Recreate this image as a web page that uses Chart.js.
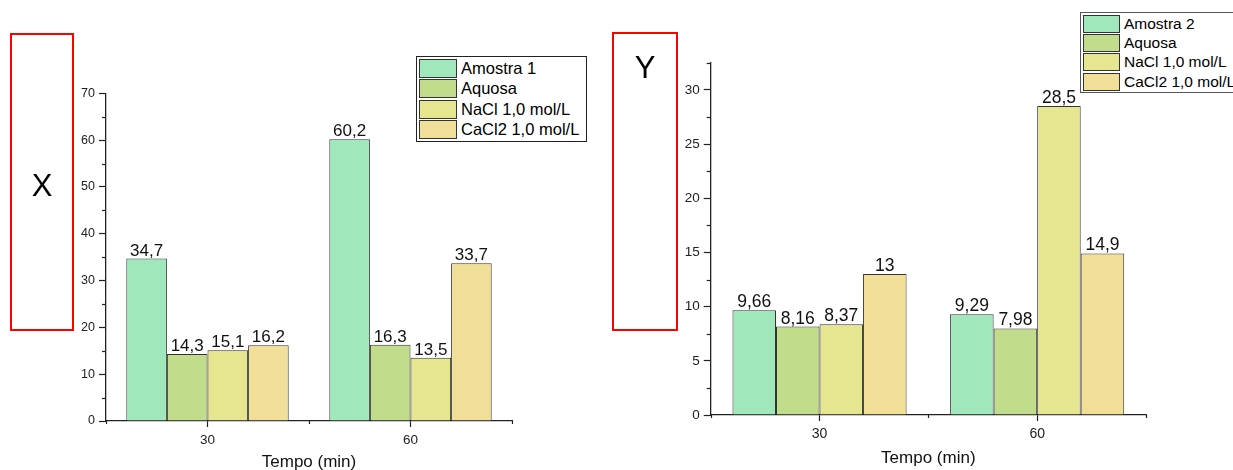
<!DOCTYPE html>
<html><head><meta charset="utf-8">
<script src="https://cdn.jsdelivr.net/npm/chart.js@4/dist/chart.umd.min.js"></script>
<style>
html,body{margin:0;padding:0;width:1233px;height:470px;overflow:hidden;background:#fff;font-family:"Liberation Sans",Arial,sans-serif;}
canvas{position:absolute;top:0;}
#c1{left:0;}
#c2{left:600px;}
.redbox{position:absolute;border:2px solid #f00;box-sizing:border-box;}
.redbox span{position:absolute;left:0;width:100%;text-align:center;font-size:31px;color:#000;line-height:1;}
.legend{position:absolute;background:#fff;box-sizing:border-box;border:1px solid #222;white-space:nowrap;}
.legend .row{position:absolute;left:2px;}
.legend .sw{position:absolute;left:0;top:0;box-sizing:border-box;border:1px solid #333;}
.legend .tx{position:absolute;top:0;color:#000;}
</style>
</head><body>
<canvas id="c1" width="600" height="480"></canvas>
<canvas id="c2" width="633" height="480"></canvas>
<div class="redbox" style="left:10px;top:33px;width:64px;height:298px;"><span style="top:135px;">X</span></div>
<div class="redbox" style="left:612px;top:32px;width:66px;height:299px;"><span style="top:18px;">Y</span></div>
<div id="leg1" class="legend" style="left:416px;top:56px;width:171px;height:86px;"></div>
<div id="leg2" class="legend" style="left:1080px;top:12px;width:170px;height:81px;border-color:#555;"></div>
<script>
// ---------- data ----------
const categories = ['30', '60'];
const seriesNames1 = ['Amostra 1', 'Aquosa', 'NaCl 1,0 mol/L', 'CaCl2 1,0 mol/L'];
const seriesNames2 = ['Amostra 2', 'Aquosa', 'NaCl 1,0 mol/L', 'CaCl2 1,0 mol/L'];
const amostra1 = [34.7, 60.2];
const aquosa1 = [14.3, 16.3];
const nacl1 = [15.1, 13.5];
const cacl2_1 = [16.2, 33.7];
const amostra2 = [9.66, 9.29];
const aquosa2 = [8.16, 7.98];
const nacl2 = [8.37, 28.5];
const cacl2_2 = [13, 14.9];
const xTitle = 'Tempo (min)';
const seriesColors = ['#a0e8bb', '#c1dc8b', '#e6e690', '#f2df97'];

const FONT = '"Liberation Sans", Arial, sans-serif';

function fmt(v) { return String(v).replace('.', ','); }

function buildLegend(id, names, cfg) {
  const el = document.getElementById(id);
  names.forEach((n, i) => {
    const r = document.createElement('div');
    r.className = 'row';
    r.style.top = (cfg.top + i * cfg.rowH) + 'px';
    const sw = document.createElement('div');
    sw.className = 'sw';
    sw.style.width = cfg.swW + 'px';
    sw.style.height = cfg.swH + 'px';
    sw.style.background = seriesColors[i];
    const tx = document.createElement('div');
    tx.className = 'tx';
    tx.style.left = cfg.txL + 'px';
    tx.style.fontSize = cfg.fs + 'px';
    tx.style.lineHeight = cfg.swH + 'px';
    tx.textContent = n;
    r.appendChild(sw); r.appendChild(tx);
    el.appendChild(r);
  });
}

const decorPlugin = {
  id: 'decor',
  afterDatasetsDraw(chart, args, opts) {
    const ctx = chart.ctx;
    const ys = chart.scales.y;
    const area = chart.chartArea;
    ctx.save();
    // value labels
    ctx.fillStyle = '#111';
    ctx.font = opts.labelSize + 'px ' + FONT;
    ctx.textAlign = 'center';
    ctx.textBaseline = 'alphabetic';
    chart.data.datasets.forEach((ds, di) => {
      const meta = chart.getDatasetMeta(di);
      meta.data.forEach((bar, i) => {
        ctx.fillText(fmt(ds.data[i]), bar.x, bar.y - 3);
      });
    });
    // minor y ticks
    ctx.strokeStyle = '#222';
    ctx.lineWidth = 1.2;
    for (let v = 0; v <= ys.max + 1e-9; v += opts.minorStep) {
      if (Math.abs(v / opts.majorStep - Math.round(v / opts.majorStep)) < 1e-6) continue;
      const y = Math.round(ys.getPixelForValue(v)) + 0.5;
      ctx.beginPath(); ctx.moveTo(area.left - 4, y); ctx.lineTo(area.left, y); ctx.stroke();
    }
    // x boundary ticks
    const n = chart.data.labels.length;
    const cw = (area.right - area.left) / n;
    for (let k = 0; k <= n; k++) {
      const x = Math.round(area.left + k * cw) + 0.5;
      ctx.beginPath(); ctx.moveTo(x, area.bottom); ctx.lineTo(x, area.bottom + 3); ctx.stroke();
    }
    ctx.restore();
  }
};

function makeChart(id, W, H, area, series, names, yMax, majorStep, minorStep, sz) {
  return new Chart(document.getElementById(id), {
    type: 'bar',
    data: {
      labels: categories,
      datasets: series.map((d, i) => ({
        label: names[i], data: d, backgroundColor: seriesColors[i],
        borderColor: '#333', borderWidth: 1,
        categoryPercentage: 0.8, barPercentage: 1.0
      }))
    },
    options: {
      responsive: false, animation: false, devicePixelRatio: 1,
      layout: { padding: { left: 0, top: area.top, right: W - area.right, bottom: 0 } },
      plugins: {
        legend: { display: false }, tooltip: { enabled: false },
        decor: { labelSize: sz.label, minorStep: minorStep, majorStep: majorStep }
      },
      scales: {
        y: {
          min: 0, max: yMax,
          ticks: { stepSize: majorStep, includeBounds: false, color: '#222', padding: 4,
                   font: { family: FONT, size: sz.ytick } },
          grid: { drawOnChartArea: false, tickLength: 7, tickColor: '#222', tickWidth: 1.2 },
          border: { color: '#222', width: 1.3 },
          afterFit: s => { s.width = area.left; }
        },
        x: {
          ticks: { color: '#222', padding: 5, font: { family: FONT, size: sz.xtick } },
          grid: { offset: false, drawOnChartArea: false, tickLength: 6, tickColor: '#222', tickWidth: 1.2 },
          border: { color: '#222', width: 1.3 },
          title: { display: true, text: xTitle, color: '#111',
                   font: { family: FONT, size: sz.title }, padding: { top: 0, bottom: sz.titlePad } },
          afterFit: s => { s.height = H - area.bottom; }
        }
      }
    },
    plugins: [decorPlugin]
  });
}

makeChart('c1', 600, 480, { left: 106, top: 93.3, right: 512, bottom: 421 },
  [amostra1, aquosa1, nacl1, cacl2_1], seriesNames1, 70, 10, 5,
  { label: 17, ytick: 12.5, xtick: 13.5, title: 17, titlePad: 7 });

makeChart('c2', 633, 480, { left: 110.7, top: 62.7, right: 546, bottom: 415 },
  [amostra2, aquosa2, nacl2, cacl2_2], seriesNames2, 32.5, 5, 2.5,
  { label: 17.5, ytick: 13.5, xtick: 14, title: 17, titlePad: 11 });

buildLegend('leg1', seriesNames1, { top: 2, rowH: 20.4, swW: 38, swH: 19, txL: 42, fs: 16.5 });
buildLegend('leg2', seriesNames2, { top: 1.5, rowH: 19.4, swW: 37, swH: 18, txL: 41, fs: 15.5 });
</script>
</body></html>
